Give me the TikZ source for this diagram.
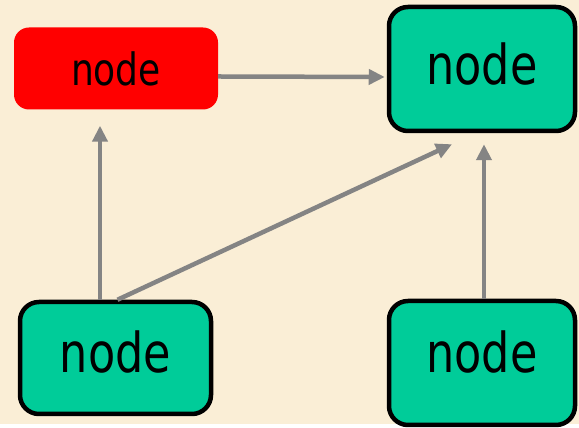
\documentclass[tikz,border=0pt]{standalone}
\usepackage{fontspec}
\setmainfont{DejaVu Sans}
\usepackage{tikz}
\usetikzlibrary{arrows.meta}

\definecolor{paper}{RGB}{250,238,214}
\definecolor{mint}{RGB}{0,204,153}
\definecolor{wire}{RGB}{132,132,132}
\newcommand{\boxword}[2]{\scalebox{0.81}[1]{\fontsize{#1}{#1}\selectfont #2}}

\begin{document}
\begin{tikzpicture}[x=1pt,y=1pt,
	redbox/.style={fill=red, rounded corners=15pt, minimum width=204pt, minimum height=82pt, inner sep=0pt},
	greenbox/.style={draw=black, line width=4.5pt, fill=mint, rounded corners=19pt, inner sep=0pt},
	link/.style={draw=wire, line width=4.5pt, -{Triangle[length=16pt,width=15pt]}}]
	\fill[paper] (0,0) rectangle (579,424);
	\node[redbox] (red) at (116,355.5) {\boxword{44.5}{node}};
	\node[greenbox, minimum width=186pt, minimum height=124pt, text depth=10pt] (tr) at (482,355) {\boxword{55}{node}};
	\node[greenbox, minimum width=191pt, minimum height=112pt, text depth=12pt] (bl) at (115.5,66) {\boxword{55}{node}};
	\node[greenbox, minimum width=186pt, minimum height=124pt, text depth=22pt] (br) at (482,61) {\boxword{55}{node}};
	\draw[link] ([yshift=-8pt]red.east) -- ([yshift=-8pt,xshift=-2pt]tr.west);
	\draw[link] ([xshift=-15.5pt]bl.north) -- ([xshift=-16pt,yshift=-16pt]red.south);
	\draw[link] ([xshift=2pt]bl.north) -- ([shift={(-30pt,-11pt)}]tr.south);
	\draw[link] ([xshift=2pt]br.north) -- ([shift={(2pt,-11pt)}]tr.south);
	\useasboundingbox (0,0) rectangle (579,424);
\end{tikzpicture}
\end{document}
